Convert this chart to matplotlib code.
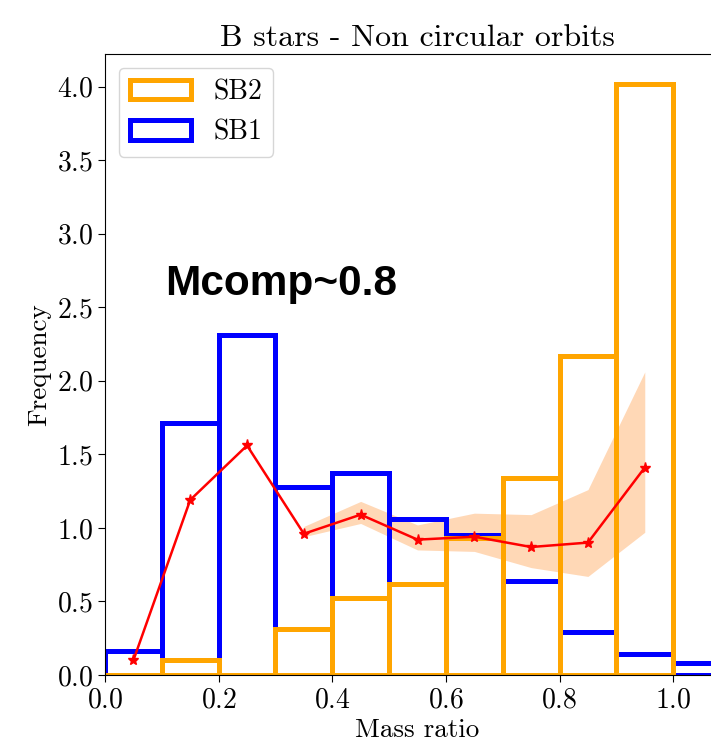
import numpy as np
import matplotlib
matplotlib.use('Agg')
import matplotlib.pyplot as plt

plt.rcParams['font.family'] = 'serif'
plt.rcParams['font.serif'] = ['cmr10']
plt.rcParams['mathtext.fontset'] = 'cm'
plt.rcParams['axes.formatter.use_mathtext'] = True

# histogram bins (mass ratio)
edges_sb1 = [0.0, 0.1, 0.2, 0.3, 0.4, 0.5, 0.6, 0.7, 0.8, 0.9, 1.0, 1.1]
edges_sb2 = [0.0, 0.1, 0.2, 0.3, 0.4, 0.5, 0.6, 0.7, 0.8, 0.9, 1.0]
sb1 = [0.16, 1.71, 2.31, 1.28, 1.37, 1.06, 0.95, 0.64, 0.29, 0.14, 0.08]
sb2 = [0.0, 0.10, 0.0, 0.31, 0.52, 0.62, 0.93, 1.34, 2.17, 4.02]

# model curve
q_mod = [0.05, 0.15, 0.25, 0.35, 0.45, 0.55, 0.65, 0.75, 0.85, 0.95]
f_mod = [0.10, 1.19, 1.56, 0.96, 1.09, 0.92, 0.94, 0.87, 0.90, 1.41]

# uncertainty band
q_band = [0.35, 0.45, 0.55, 0.65, 0.75, 0.85, 0.95]
band_lo = [0.94, 1.03, 0.85, 0.84, 0.73, 0.67, 0.97]
band_hi = [1.01, 1.18, 1.02, 1.10, 1.09, 1.26, 2.06]

fig = plt.figure(figsize=(7.11, 7.42), dpi=100)
ax = fig.add_axes([105/711, 67/742, 625/711, 621/742])

ax.fill_between(q_band, band_lo, band_hi, color='C1', alpha=0.3, lw=0)

c1 = [e + 0.05 for e in edges_sb1[:-1]]
c2 = [e + 0.05 for e in edges_sb2[:-1]]
_, _, p1 = ax.hist(c1, bins=edges_sb1, weights=sb1, fill=False,
                   edgecolor='blue', lw=3.6, label='SB1')
_, _, p2 = ax.hist(c2, bins=edges_sb2, weights=sb2, fill=False,
                   edgecolor='orange', lw=3.6, label='SB2')

ax.plot(q_mod, f_mod, color='red', marker='*', ms=8, lw=1.8)

ax.text(0.106, 2.585, 'Mcomp~0.8', fontsize=30.5, fontweight='bold',
        family='Liberation Sans')

ax.set_xlim(0, 1.1)
ax.set_ylim(0, 4.221)
ax.set_xticks([0.0, 0.2, 0.4, 0.6, 0.8, 1.0])
ax.set_yticks(np.arange(0, 4.01, 0.5))
ax.tick_params(labelsize=20, length=5)
ax.set_xlabel('Mass ratio', fontsize=19.5)
ax.set_ylabel('Frequency', fontsize=19.5)
ax.set_title('B stars - Non circular orbits', fontsize=23)

ax.legend([p2[0], p1[0]], ['SB2', 'SB1'], loc='upper left', fontsize=20,
          handlelength=2.2)

fig.savefig('out.png', dpi=100)
